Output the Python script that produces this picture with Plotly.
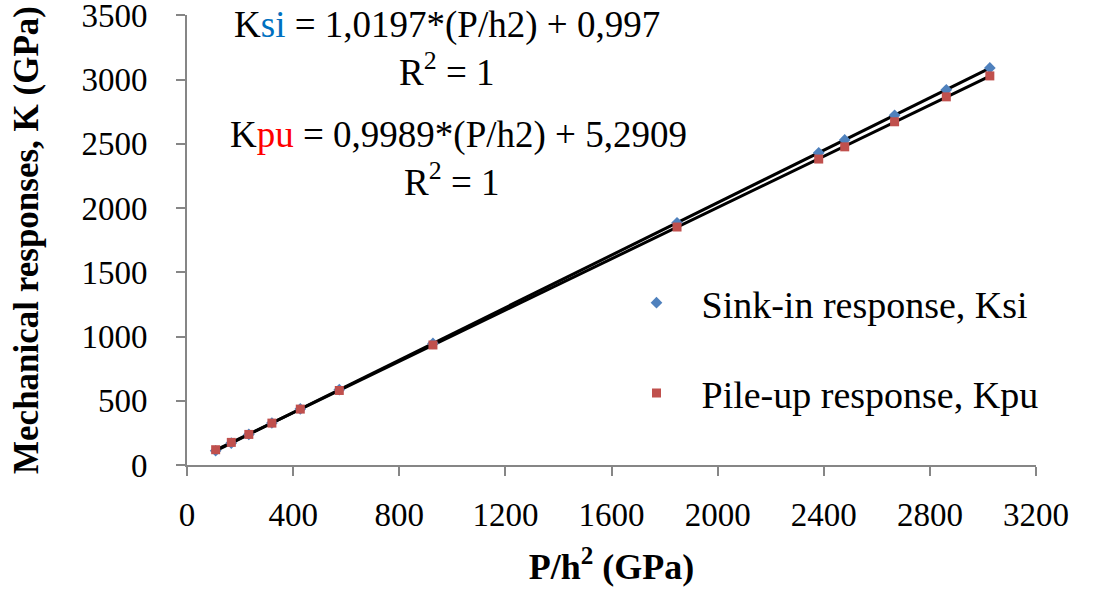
import numpy as np
import plotly.graph_objects as go

# Data
x_ph2 = [108, 167, 233, 320, 427, 574, 927, 1847, 2381, 2479, 2667, 2862, 3026]
k_si = [111, 171, 238, 327, 436, 586, 946, 1885, 2430, 2530, 2722, 2920, 3090]
k_pu = [119, 176, 238, 326, 435, 580, 934, 1852, 2381, 2476, 2671, 2865, 3028]

x_ticks = [0, 400, 800, 1200, 1600, 2000, 2400, 2800, 3200]
y_ticks = [0, 500, 1000, 1500, 2000, 2500, 3000, 3500]

FONT = "Liberation Serif"
AXIS_COL = "#868686"

x_arr = np.array(x_ph2, dtype=float)
fit_si = np.polyfit(x_arr, np.array(k_si, dtype=float), 1)
fit_pu = np.polyfit(x_arr, np.array(k_pu, dtype=float), 1)
x_line = np.array([x_arr.min(), x_arr.max()])

fig = go.Figure()

fig.add_trace(go.Scatter(
    x=x_line, y=np.polyval(fit_si, x_line), mode="lines",
    line=dict(color="black", width=3), showlegend=False, hoverinfo="skip"))
fig.add_trace(go.Scatter(
    x=x_line, y=np.polyval(fit_pu, x_line), mode="lines",
    line=dict(color="black", width=3), showlegend=False, hoverinfo="skip"))

fig.add_trace(go.Scatter(
    x=x_ph2, y=k_si, mode="markers", name="Sink-in response, Ksi",
    legendgroup="si",
    marker=dict(symbol="diamond", color="#4F81BD", size=9)))
fig.add_trace(go.Scatter(
    x=x_ph2, y=k_pu, mode="markers", name="Pile-up response, Kpu",
    legendgroup="pu",
    marker=dict(symbol="square", color="#C0504D", size=9)))

ann_font = dict(family=FONT, size=37, color="black")
fig.add_annotation(
    x=0.3068, y=0.978, xref="paper", yref="paper", xanchor="center", yanchor="middle",
    text="K<span style='color:#0070C0'>si</span> = 1,0197*(P/h2) + 0,997",
    showarrow=False, font=ann_font)
fig.add_annotation(
    x=0.3062, y=0.878, xref="paper", yref="paper", xanchor="center", yanchor="middle",
    text="R<sup>2</sup> = 1",
    showarrow=False, font=ann_font)
fig.add_annotation(
    x=0.3192, y=0.7335, xref="paper", yref="paper", xanchor="center", yanchor="middle",
    text="K<span style='color:#FF0000'>pu</span> = 0,9989*(P/h2) + 5,2909",
    showarrow=False, font=ann_font)
fig.add_annotation(
    x=0.312, y=0.634, xref="paper", yref="paper", xanchor="center", yanchor="middle",
    text="R<sup>2</sup> = 1",
    showarrow=False, font=ann_font)

fig.update_layout(
    width=1098, height=595,
    margin=dict(l=187, r=62, t=15, b=130),
    paper_bgcolor="white", plot_bgcolor="white",
    font=dict(family=FONT, color="black"),
    showlegend=True,
    legend=dict(
        x=0.5, y=0.26, xanchor="left", yanchor="middle",
        font=dict(family=FONT, size=38, color="black"),
        itemwidth=80, tracegroupgap=38, bgcolor="rgba(0,0,0,0)"),
    xaxis=dict(
        range=[0, 3200], tickvals=x_ticks, ticktext=[str(v) for v in x_ticks],
        automargin=False,
        showgrid=False, zeroline=False, showline=True, linecolor=AXIS_COL, linewidth=2,
        ticks="outside", ticklen=9, tickwidth=2, tickcolor=AXIS_COL,
        ticklabelstandoff=10,
        tickfont=dict(family=FONT, size=33, color="black"),
        title=dict(text="<b>P/h<sup>2</sup> (GPa)</b>", font=dict(family=FONT, size=36, color="black"), standoff=22)),
    yaxis=dict(
        range=[0, 3502], tickvals=y_ticks, ticktext=[str(v) for v in y_ticks],
        automargin=False,
        showgrid=False, zeroline=False, showline=True, linecolor=AXIS_COL, linewidth=2,
        ticks="outside", ticklen=9, tickwidth=2, tickcolor=AXIS_COL,
        ticklabelstandoff=22, ticklabeloverflow="allow",
        tickfont=dict(family=FONT, size=33, color="black"),
        title=dict(text="<b>Mechanical responses, K (GPa)</b>", font=dict(family=FONT, size=35, color="black"), standoff=32)),
)

fig.write_html("out.html")
